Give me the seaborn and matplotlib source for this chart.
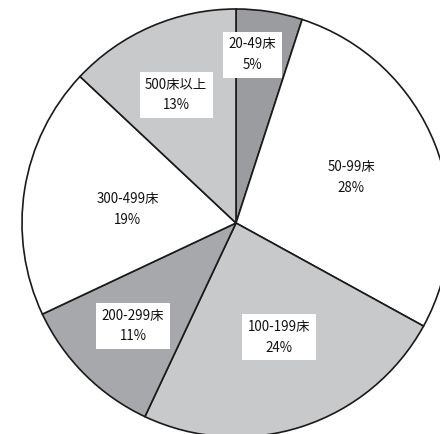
import numpy as np
import matplotlib
matplotlib.use("Agg")
import matplotlib.pyplot as plt
import seaborn as sns

categories = ["20-49床", "50-99床", "100-199床", "200-299床", "300-499床", "500床以上"]
shares = [5, 28, 24, 11, 19, 13]
colors = ["#9b9c9f", "#ffffff", "#c8c9cb", "#a7a8ab", "#ffffff", "#c8c9cb"]
label_radius = [0.79, 0.58, 0.57, 0.68, 0.51, 0.66]
label_angle_shift = [3.5, 0.0, 2.5, 0.0, 2.0, 1.6]
boxed = [True, False, True, True, False, True]

sns.set_theme(style="white")
plt.rcParams['font.family'] = ['Noto Sans CJK JP', 'DejaVu Sans']

W, H = 440, 434
fig = plt.figure(figsize=(W / 100, H / 100), dpi=100)
ax = fig.add_axes([0, 0, 1, 1])
ax.set_axis_off()

wedges, _ = ax.pie(shares, colors=colors, startangle=90, counterclock=False,
                   radius=1.0,
                   wedgeprops=dict(edgecolor="#1a1a1a", linewidth=1.2))

for w, cat, s, r, da, b in zip(wedges, categories, shares, label_radius,
                               label_angle_shift, boxed):
    mid = np.deg2rad((w.theta1 + w.theta2) / 2 + da)
    x, y = r * np.cos(mid), r * np.sin(mid)
    kw = {}
    if b:
        kw["bbox"] = dict(boxstyle="square,pad=0.42", fc="white", ec="none")
    ax.text(x, y, f"{cat}\n{s}%", ha="center", va="center", fontsize=9.6,
            linespacing=1.6, color="#111111", **kw)

# center (236,223) px, radius 214 px
cx, cy, R = 236, 223, 214
ax.set_xlim(-cx / R, (W - cx) / R)
ax.set_ylim(-(H - cy) / R, cy / R)
ax.set_aspect("auto")

fig.savefig("out.png", dpi=100, facecolor="white")
